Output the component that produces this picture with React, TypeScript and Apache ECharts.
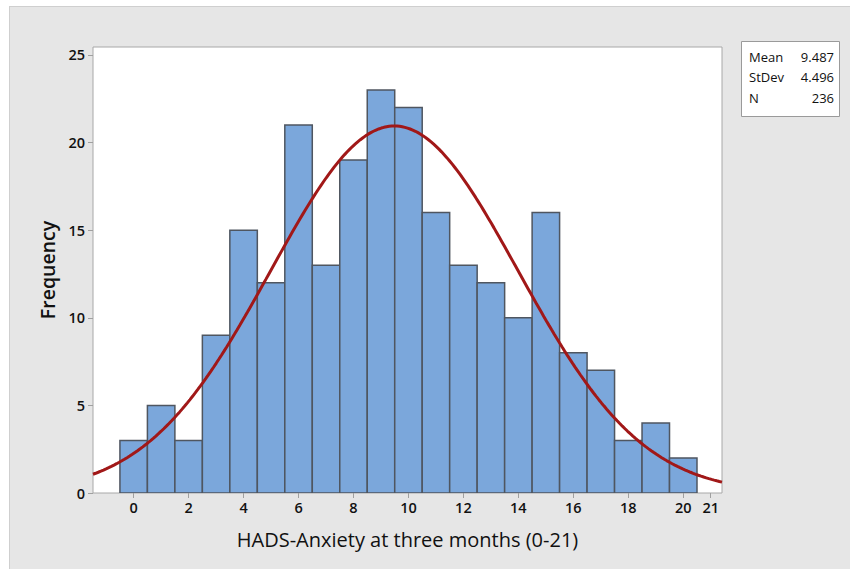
import React, { useEffect, useRef } from "react";
import * as echarts from "echarts";

// HADS-Anxiety score bins (one per integer score) and their counts
const scores = [0, 1, 2, 3, 4, 5, 6, 7, 8, 9, 10, 11, 12, 13, 14, 15, 16, 17, 18, 19, 20];
const frequencies = [3, 5, 3, 9, 15, 12, 21, 13, 19, 23, 22, 16, 13, 12, 10, 16, 8, 7, 3, 4, 2];

// Summary statistics shown in the stats box
const statLabels = ["Mean", "StDev", "N"];
const statValues = ["9.487", "4.496", "236"];
const mean = 9.487;
const stdev = 4.496;
const n = 236;

// Axis tick labels
const xTicks = [0, 2, 4, 6, 8, 10, 12, 14, 16, 18, 20, 21];
const yTicks = [0, 5, 10, 15, 20, 25];

const X_MIN = -1.48;
const X_MAX = 21.41;
const Y_MAX = 25.45;

const FONT = "'Open Sans', 'Noto Sans', sans-serif";

// Fitted normal curve scaled to counts (bin width 1)
function normalCurve(): number[][] {
  const pts: number[][] = [];
  const steps = 240;
  for (let i = 0; i <= steps; i++) {
    const x = X_MIN + ((X_MAX - X_MIN) * i) / steps;
    const z = (x - mean) / stdev;
    const y = (n / (stdev * Math.sqrt(2 * Math.PI))) * Math.exp(-0.5 * z * z);
    pts.push([x, y]);
  }
  return pts;
}

export default function App() {
  const ref = useRef<HTMLDivElement>(null);

  useEffect(() => {
    if (!ref.current) return;
    const chart = echarts.init(ref.current, null, { renderer: "svg" });

    const statRows = statLabels.map((label, i) => [
      {
        type: "text",
        left: 749,
        top: 50 + i * 20.5,
        style: { text: label, font: `13px ${FONT}`, fill: "#111" },
      },
      {
        type: "text",
        right: 850 - 834,
        top: 50 + i * 20.5,
        style: { text: statValues[i], font: `13px ${FONT}`, fill: "#111", align: "right" },
      },
    ]).flat();

    chart.setOption({
      animation: false,
      backgroundColor: "transparent",
      grid: {
        left: 93,
        top: 47,
        width: 629,
        height: 446,
        show: true,
        backgroundColor: "#ffffff",
        borderColor: "#a8a8a8",
        borderWidth: 1,
      },
      xAxis: {
        type: "value",
        min: X_MIN,
        max: X_MAX,
        name: "HADS-Anxiety at three months (0-21)",
        nameLocation: "middle",
        nameGap: 36,
        nameTextStyle: { fontFamily: FONT, fontSize: 20, color: "#111" },
        axisLine: { show: false, onZero: false },
        axisTick: {
          show: true,
          length: 5,
          lineStyle: { color: "#a0a0a0" },
          customValues: xTicks,
        },
        axisLabel: {
          customValues: xTicks,
          fontFamily: FONT,
          fontSize: 14.5,
          fontWeight: 600,
          color: "#111",
          margin: 7,
        },
        splitLine: { show: false },
      },
      yAxis: {
        type: "value",
        min: 0,
        max: Y_MAX,
        name: "Frequency",
        nameLocation: "middle",
        nameGap: 36,
        nameTextStyle: { fontFamily: FONT, fontSize: 19.5, fontWeight: 600, color: "#111" },
        axisLine: { show: false, onZero: false },
        axisTick: {
          show: true,
          length: 5,
          lineStyle: { color: "#a0a0a0" },
          customValues: yTicks,
        },
        axisLabel: {
          customValues: yTicks,
          fontFamily: FONT,
          fontSize: 14.5,
          fontWeight: 600,
          color: "#111",
          margin: 8,
        },
        splitLine: { show: false },
      },
      graphic: [
        {
          type: "rect",
          left: 741,
          top: 41,
          shape: { width: 98, height: 75 },
          style: { fill: "#ffffff", stroke: "#9a9a9a", lineWidth: 1 },
        },
        ...statRows,
      ],
      series: [
        {
          type: "custom",
          data: scores.map((s, i) => [s, frequencies[i]]),
          encode: { x: 0, y: 1 },
          clip: true,
          renderItem: (_params: any, api: any) => {
            const x = api.value(0);
            const y = api.value(1);
            const p0 = api.coord([x - 0.5, y]);
            const p1 = api.coord([x + 0.5, 0]);
            return {
              type: "rect",
              shape: {
                x: p0[0],
                y: p0[1],
                width: p1[0] - p0[0],
                height: p1[1] - p0[1],
              },
              style: { fill: "#7ba7db", stroke: "#4f5660", lineWidth: 1.5 },
            };
          },
          z: 2,
        },
        {
          type: "line",
          data: normalCurve(),
          showSymbol: false,
          smooth: false,
          clip: true,
          lineStyle: { color: "#a11818", width: 3 },
          z: 3,
        },
      ],
    });

    return () => chart.dispose();
  }, []);

  return (
    <div style={{ position: "fixed", left: 0, top: 0, width: 850, height: 569, background: "#ffffff" }}>
      <div
        style={{
          position: "absolute",
          left: 9,
          top: 6,
          right: 0,
          bottom: 0,
          background: "#e6e6e6",
          borderLeft: "1px solid #cfcfcf",
          borderTop: "1px solid #cfcfcf",
        }}
      />
      <div ref={ref} style={{ position: "absolute", left: 0, top: 0, width: 850, height: 569 }} />
    </div>
  );
}
